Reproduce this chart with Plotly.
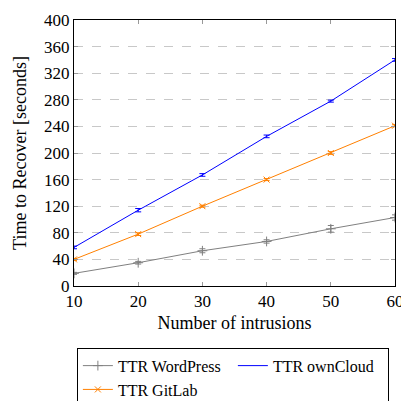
import plotly.graph_objects as go

intrusions = [10, 20, 30, 40, 50, 60]
ttr_wordpress = [19, 35, 53, 67, 86, 103]
err_wordpress = [1.5, 2, 3, 2.5, 5, 4]
ttr_owncloud = [58, 114, 167, 225, 278, 340]
err_owncloud = [2, 2.5, 2, 2, 1.5, 2]
ttr_gitlab = [40, 78, 120, 160, 200, 241]
err_gitlab = [1.5, 2, 1.5, 1.5, 2, 1.5]
y_ticks = [0, 40, 80, 120, 160, 200, 240, 280, 320, 360, 400]

FONT = "Liberation Serif"

fig = go.Figure()
fig.add_trace(go.Scatter(
    x=intrusions, y=ttr_wordpress, name="TTR WordPress", mode="lines+markers",
    line=dict(color="#808080", width=1),
    marker=dict(symbol="cross-thin", size=7, line=dict(color="#808080", width=1)),
    error_y=dict(type="data", array=err_wordpress, color="#808080", thickness=1, width=3)))
fig.add_trace(go.Scatter(
    x=intrusions, y=ttr_owncloud, name="TTR ownCloud", mode="lines",
    line=dict(color="#0000ff", width=1),
    error_y=dict(type="data", array=err_owncloud, color="#0000ff", thickness=1, width=3)))
fig.add_trace(go.Scatter(
    x=intrusions, y=ttr_gitlab, name="TTR GitLab", mode="lines+markers",
    line=dict(color="#ff8000", width=1),
    marker=dict(symbol="x-thin", size=6, line=dict(color="#ff8000", width=1)),
    error_y=dict(type="data", array=err_gitlab, color="#ff8000", thickness=1, width=3)))

fig.update_layout(
    width=401, height=401,
    margin=dict(l=74, r=6, t=20, b=115, autoexpand=False),
    plot_bgcolor="white", paper_bgcolor="white",
    font=dict(family=FONT, size=17, color="black"),
    showlegend=True,
    legend=dict(orientation="h", x=0.009, y=-0.232, xanchor="left", yanchor="top",
                bordercolor="black", borderwidth=1, entrywidth=110, entrywidthmode="pixels",
                font=dict(family=FONT, size=16), tracegroupgap=0, itemwidth=30),
)
fig.update_xaxes(range=[10, 60], tickvals=intrusions, ticks="inside", ticklen=4,
                 tickcolor="#999", showline=True, linecolor="black", linewidth=1,
                 mirror="ticks", showgrid=False, zeroline=False, ticklabeloverflow="allow",
                 title=dict(text="Number of intrusions", standoff=5, font=dict(size=18)),
                 tickfont=dict(size=17))
fig.update_yaxes(range=[0, 400], tickvals=y_ticks, ticks="inside", ticklen=4,
                 tickcolor="#999", showline=True, linecolor="black", linewidth=1,
                 mirror="ticks", showgrid=True, gridcolor="#c8c8c8", griddash="dash",
                 gridwidth=1, zeroline=False,
                 title=dict(text="Time to Recover [seconds]", standoff=12, font=dict(size=18)),
                 tickfont=dict(size=17))

fig.write_html("out.html", config={"displayModeBar": False},
               post_script="document.body.style.margin='0';document.body.style.overflow='hidden';")
